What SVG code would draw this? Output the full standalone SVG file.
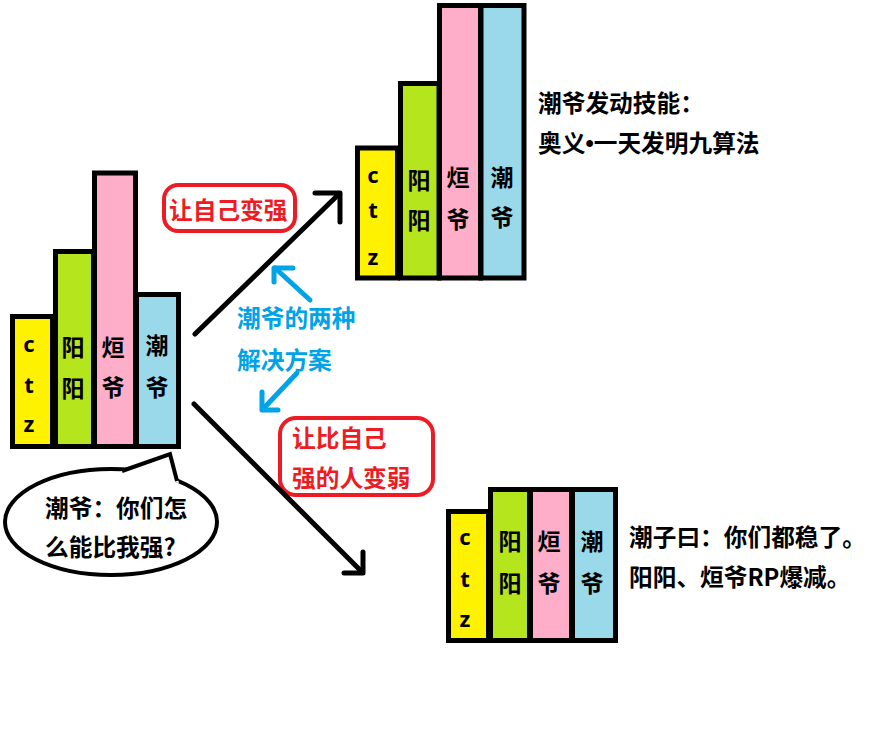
<svg xmlns="http://www.w3.org/2000/svg" width="879" height="739" viewBox="0 0 879 739">
<style>
.bar{stroke:#000;stroke-width:5}
.y{fill:#fff200}.g{fill:#b5e61d}.p{fill:#ffaec9}.b{fill:#99d9ea}
.t{font-family:"Noto Sans CJK SC","Noto Sans",sans-serif;font-weight:bold;font-size:23px;fill:#000}
.L{font-size:23.7px}
.m{text-anchor:middle}
.lat{font-family:"Noto Sans","Noto Sans CJK SC",sans-serif;font-size:22px}
.dot{font-family:"Liberation Sans",sans-serif}
.red{fill:#ed1c24}.blue{fill:#00a2e8}
.box{fill:none;stroke:#ed1c24;stroke-width:4}
.ln{fill:none;stroke:#000;stroke-width:5;stroke-linecap:round;stroke-linejoin:round}
.bl{fill:none;stroke:#00a2e8;stroke-width:5;stroke-linecap:round;stroke-linejoin:round}
</style>
<rect width="879" height="739" fill="#fff"/>

<g id="left-group">
<rect class="bar y" x="12.5" y="316.5" width="40" height="130"/>
<rect class="bar g" x="55.5" y="251.5" width="38" height="195"/>
<rect class="bar p" x="94.5" y="173" width="41" height="273.5"/>
<rect class="bar b" x="136.5" y="294.5" width="42" height="152"/>
<text class="t lat m" x="29" y="352">c</text>
<text class="t lat m" x="29" y="393">t</text>
<text class="t lat m" x="29" y="432">z</text>
<text class="t m" x="73" y="356">阳</text>
<text class="t m" x="73" y="397">阳</text>
<text class="t m" x="113" y="356">烜</text>
<text class="t m" x="113" y="396">爷</text>
<text class="t m" x="157" y="354">潮</text>
<text class="t m" x="157" y="396">爷</text>
</g>

<g id="bubble">
<ellipse cx="111" cy="522" rx="106" ry="53" fill="#fff" stroke="#000" stroke-width="4"/>
<polygon points="120,472 170,454 179,483" fill="#fff"/>
<polyline points="122,471 170,454 177,481" fill="none" stroke="#000" stroke-width="4" stroke-linejoin="miter"/>
<text class="t L" x="45" y="517">潮爷：你们怎</text>
<text class="t L" x="45" y="556">么能比我强?</text>
</g>

<g id="top-group">
<rect class="bar y" x="357.5" y="148" width="40" height="130"/>
<rect class="bar g" x="400.5" y="83.5" width="38.5" height="194.5"/>
<rect class="bar p" x="439.5" y="5.5" width="41" height="272.5"/>
<rect class="bar b" x="481" y="5.5" width="43" height="272.5"/>
<text class="t lat m" x="373" y="183">c</text>
<text class="t lat m" x="373" y="218">t</text>
<text class="t lat m" x="373" y="265">z</text>
<text class="t m" x="419" y="189">阳</text>
<text class="t m" x="419" y="229">阳</text>
<text class="t m" x="458" y="186">烜</text>
<text class="t m" x="458" y="228">爷</text>
<text class="t m" x="502" y="186">潮</text>
<text class="t m" x="502" y="226">爷</text>
</g>

<g id="bottom-group">
<rect class="bar y" x="448.5" y="511.5" width="40" height="129"/>
<rect class="bar g" x="490.5" y="489.5" width="39" height="151"/>
<rect class="bar p" x="530.5" y="489.5" width="41" height="151"/>
<rect class="bar b" x="572.5" y="489.5" width="43" height="151"/>
<text class="t lat m" x="465" y="545">c</text>
<text class="t lat m" x="465" y="587">t</text>
<text class="t lat m" x="465" y="627">z</text>
<text class="t m" x="510" y="550">阳</text>
<text class="t m" x="510" y="592">阳</text>
<text class="t m" x="549" y="550">烜</text>
<text class="t m" x="549" y="592">爷</text>
<text class="t m" x="592" y="550">潮</text>
<text class="t m" x="592" y="592">爷</text>
</g>

<g id="label-strong">
<rect class="box" x="164" y="185" width="131" height="46" rx="14"/>
<text class="t L red" x="169" y="219">让自己变强</text>
</g>

<g id="label-weak">
<rect class="box" x="280" y="418" width="153" height="77" rx="16"/>
<text class="t L red" x="292" y="447">让比自己</text>
<text class="t L red" x="292" y="487">强的人变弱</text>
</g>

<g id="label-solutions">
<text class="t L blue" x="237" y="327">潮爷的两种</text>
<text class="t L blue" x="237" y="369">解决方案</text>
</g>

<g id="note-top">
<text class="t L" x="538" y="112">潮爷发动技能：</text>
<text class="t L" x="538" y="152">奥义<tspan class="dot">•</tspan>一天发明九算法</text>
</g>

<g id="note-bottom">
<text class="t L" x="629" y="546">潮子曰：你们都稳了。</text>
<text class="t L" x="629" y="586">阳阳、烜爷RP爆减。</text>
</g>

<g id="connectors">
<line class="ln" x1="195" y1="334" x2="339" y2="194"/>
<polyline class="ln" points="315,193 340,193 340,222"/>
<line class="ln" x1="194" y1="404" x2="362" y2="572"/>
<polyline class="ln" points="344,573 363,573 363,552"/>
<line class="bl" x1="310" y1="300" x2="275" y2="268"/>
<polyline class="bl" points="293,268 274,268 274,282"/>
<line class="bl" x1="297" y1="373" x2="263" y2="409"/>
<polyline class="bl" points="262,392 262,410 278,410"/>
</g>
</svg>
